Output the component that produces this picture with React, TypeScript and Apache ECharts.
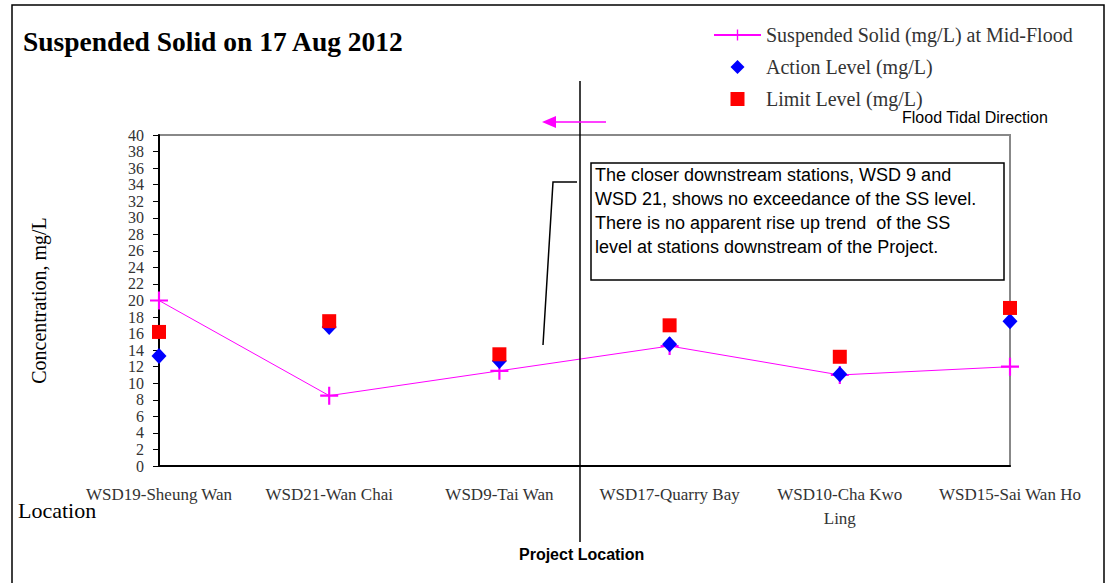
import React, { useEffect, useRef } from "react";
import * as echarts from "echarts";

const categories = [
  "WSD19-Sheung Wan",
  "WSD21-Wan Chai",
  "WSD9-Tai Wan",
  "WSD17-Quarry Bay",
  "WSD10-Cha Kwo Ling",
  "WSD15-Sai Wan Ho",
];
const suspendedSolid = [20.0, 8.5, 11.5, 14.5, 11.0, 12.0];
const actionLevel = [13.3, 16.8, 12.7, 14.7, 11.1, 17.5];
const limitLevel = [16.2, 17.5, 13.5, 17.0, 13.2, 19.1];

const seriesNames = [
  "Suspended Solid (mg/L) at Mid-Flood",
  "Action Level (mg/L)",
  "Limit Level (mg/L)",
];
const titleText = "Suspended Solid on 17 Aug 2012";
const yAxisName = "Concentration, mg/L";
const xAxisName = "Location";
const noteLines = [
  "The closer downstream stations, WSD 9 and",
  "WSD 21, shows no exceedance of the SS level.",
  "There is no apparent rise up trend  of the SS",
  "level at stations downstream of the Project.",
];
const floodText = "Flood Tidal Direction";
const projectText = "Project Location";

const PLUS = "path://M0,4.4H10V5.6H0ZM4.4,0H5.6V10H4.4Z";
const DIAMOND = "path://M5,0L10,5L5,10L0,5Z";
const SQUARE = "path://M0,0H10V10H0Z";
const SERIF = "'Liberation Serif', 'DejaVu Serif', serif";
const SANS = "'Liberation Sans', Arial, sans-serif";

export default function App() {
  const ref = useRef<HTMLDivElement>(null);
  useEffect(() => {
    if (!ref.current) return;
    const chart = echarts.init(ref.current, undefined, { renderer: "svg" });
    chart.setOption({
      animation: false,
      backgroundColor: "#fff",
      title: {
        text: titleText,
        left: 18,
        top: 22,
        textStyle: { fontFamily: SERIF, fontWeight: "bold", fontSize: 27.5, color: "#000" },
      },
      legend: {
        orient: "vertical",
        left: 708,
        top: 20,
        itemWidth: 47,
        itemHeight: 14,
        itemGap: 12,
        symbolKeepAspect: true,
        textStyle: { fontFamily: SERIF, fontSize: 20, color: "#333" },
        data: [
          { name: seriesNames[0] },
          { name: seriesNames[1], icon: DIAMOND },
          { name: seriesNames[2], icon: SQUARE },
        ],
      },
      grid: {
        left: 159,
        top: 135,
        right: 100,
        bottom: 117,
        show: true,
        borderColor: "#888",
        borderWidth: 2,
        backgroundColor: "transparent",
      },
      xAxis: {
        type: "category",
        data: categories,
        boundaryGap: false,
        axisLine: { lineStyle: { color: "#000", width: 2 } },
        axisTick: { show: false },
        axisLabel: {
          margin: 16,
          fontFamily: SERIF,
          fontSize: 17,
          color: "#333",
          lineHeight: 24,
          interval: 0,
          formatter: (v: string) => v.replace("Kwo ", "Kwo\n"),
        },
      },
      yAxis: {
        type: "value",
        min: 0,
        max: 40,
        interval: 2,
        name: yAxisName,
        nameLocation: "middle",
        nameGap: 110,
        nameRotate: 90,
        nameTextStyle: { fontFamily: SERIF, fontSize: 20, color: "#000" },
        axisLine: { show: true, lineStyle: { color: "#000", width: 2 } },
        axisTick: { show: true, length: 6, lineStyle: { color: "#000", width: 1 } },
        splitLine: { show: false },
        axisLabel: {
          margin: 15,
          showMinLabel: true,
          showMaxLabel: true,
          fontFamily: SERIF,
          fontSize: 16,
          color: "#333",
          lineHeight: 16,
        },
      },
      series: [
        {
          name: seriesNames[0],
          type: "line",
          data: suspendedSolid,
          symbol: PLUS,
          symbolSize: 18,
          showAllSymbol: true,
          itemStyle: { color: "#FF00FF", opacity: 1 },
          lineStyle: { color: "#FF00FF", width: 1 },
          z: 2,
        },
        {
          name: seriesNames[1],
          type: "scatter",
          data: actionLevel,
          symbol: DIAMOND,
          symbolSize: [15, 16],
          itemStyle: { color: "#0000FF", opacity: 1 },
          z: 3,
        },
        {
          name: seriesNames[2],
          type: "scatter",
          data: limitLevel,
          symbol: SQUARE,
          symbolSize: 14,
          itemStyle: { color: "#FF0000", opacity: 1 },
          z: 4,
        },
      ],
      graphic: [
        {
          type: "rect",
          shape: { x: 12, y: 5, width: 1092, height: 590 },
          style: { fill: "none", stroke: "#000", lineWidth: 1.5 },
          silent: true,
        },
        {
          type: "line",
          shape: { x1: 580, y1: 81, x2: 580, y2: 542 },
          style: { stroke: "#000", lineWidth: 1.5 },
          z: 10,
        },
        {
          type: "line",
          shape: { x1: 606, y1: 122, x2: 550, y2: 122 },
          style: { stroke: "#FF00FF", lineWidth: 1.5 },
          z: 10,
        },
        {
          type: "polygon",
          shape: { points: [[542, 122], [556, 116], [556, 128]] },
          style: { fill: "#FF00FF" },
          z: 10,
        },
        {
          type: "text",
          left: 902,
          top: 109,
          style: { text: floodText, font: `16px ${SANS}`, fill: "#000" },
          z: 10,
        },
        {
          type: "polyline",
          shape: { points: [[577, 182], [553, 182], [543, 345]] },
          style: { stroke: "#000", lineWidth: 1.5, fill: "none" },
          z: 10,
        },
        {
          type: "rect",
          shape: { x: 591, y: 163, width: 413, height: 117 },
          style: { fill: "#fff", stroke: "#000", lineWidth: 1.5 },
          z: 10,
        },
        {
          type: "text",
          left: 595,
          top: 163,
          style: {
            text: noteLines.join("\n"),
            font: `18px ${SANS}`,
            lineHeight: 24,
            fill: "#000",
          },
          z: 11,
        },
        {
          type: "text",
          left: 519,
          top: 546,
          style: { text: projectText, font: `bold 16px ${SANS}`, fill: "#000" },
          z: 10,
        },
        {
          type: "text",
          left: 18,
          top: 499,
          style: { text: xAxisName, font: `22px ${SERIF}`, fill: "#000" },
          z: 10,
        },
      ],
    });
    return () => chart.dispose();
  }, []);
  return (
    <div
      ref={ref}
      style={{ position: "fixed", left: 0, top: 0, width: 1110, height: 583 }}
    />
  );
}
